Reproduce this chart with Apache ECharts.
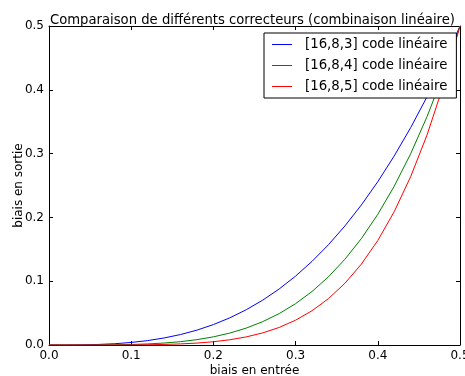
<!DOCTYPE html>
<html><head><meta charset="utf-8">
<script src="https://cdn.jsdelivr.net/npm/echarts@6/dist/echarts.min.js"></script>
<style>html,body{margin:0;padding:0;background:#fff}#c{width:465px;height:376px}</style>
</head><body><div id="c"></div>
<script>
var xs = [0,0.02,0.04,0.06,0.08,0.10,0.12,0.14,0.16,0.18,0.20,0.22,0.24,0.26,0.28,0.30,0.32,0.34,0.36,0.38,0.40,0.42,0.44,0.46,0.48,0.50];
var blue = [0,0.00003,0.00026,0.00086,0.0020,0.0040,0.0069,0.0110,0.0164,0.0233,0.0320,0.0426,0.0553,0.0703,0.0878,0.1080,0.1311,0.1572,0.1866,0.2195,0.2560,0.2964,0.3407,0.3893,0.4424,0.5];
var green = [0,0,0.00002,0.0001,0.00033,0.0008,0.00166,0.0031,0.0052,0.0084,0.0128,0.0187,0.0265,0.0366,0.0492,0.0648,0.0839,0.1069,0.1344,0.1668,0.2048,0.2489,0.2998,0.3582,0.4247,0.5];
var red = [0,0,0,0.00001,0.00005,0.00016,0.0004,0.00086,0.0017,0.0030,0.0051,0.0082,0.0127,0.0190,0.0275,0.0389,0.0537,0.0727,0.0967,0.1268,0.1638,0.2091,0.2639,0.3295,0.4077,0.5];
var names = ['[16,8,3] code linéaire','[16,8,4] code linéaire','[16,8,5] code linéaire'];
var colors = ['#0000ff','#008000','#ff0000'];
var ticks = [0,0.1,0.2,0.3,0.4,0.5];

function pairs(ys){return xs.map(function(x,i){return [x,ys[i]];});}
var F = 'DejaVu Sans';
var chart = echarts.init(document.getElementById('c'));
function axis(pos, show, name, isX){
  var a = {type:'value', min:0, max:0.5, interval:0.1, position:pos,
    axisLine:{show:true,onZero:false,lineStyle:{color:'#000',width:1}},
    axisTick:{show:true,inside:true,length:4,lineStyle:{color:'#000'}},
    splitLine:{show:false},
    axisLabel:{show:show,color:'#000',fontFamily:F,fontSize:12,margin:5,showMaxLabel:true,
      formatter:function(v){return v.toFixed(1);}}};
  if(name){a.name=name;a.nameLocation='middle';a.nameMoveOverlap=false;a.nameTextStyle={fontFamily:F,fontSize:12,color:'#000'};a.nameGap=isX?20:24;}
  return a;
}
chart.setOption({
  animation:false,
  title:{text:'Comparaison de différents correcteurs (combinaison linéaire)',left:45,top:9,
    textStyle:{fontFamily:F,fontSize:13.2,fontWeight:'normal',color:'#000'}},
  grid:{left:49,right:5,top:26,bottom:31,containLabel:false,outerBoundsMode:'none'},
  xAxis:[axis('bottom',true,'biais en entrée',true),axis('top',false)],
  yAxis:[axis('left',true,'biais en sortie',false),axis('right',false)],
  legend:{orient:'vertical',left:264,top:33,itemWidth:20,itemHeight:1,itemGap:8,padding:[5,9,5,8],
    borderColor:'#000',borderWidth:1,backgroundColor:'#fff',
    textStyle:{fontFamily:F,fontSize:13.3,color:'#000',padding:[0,0,0,8]},
    data:names.map(function(n){return {name:n,icon:'rect'};})},
  series:[blue,green,red].map(function(ys,i){
    return {type:'line',name:names[i],data:pairs(ys),symbol:'none',color:colors[i],
      lineStyle:{color:colors[i],width:1},z:1};
  })
});
</script></body></html>
